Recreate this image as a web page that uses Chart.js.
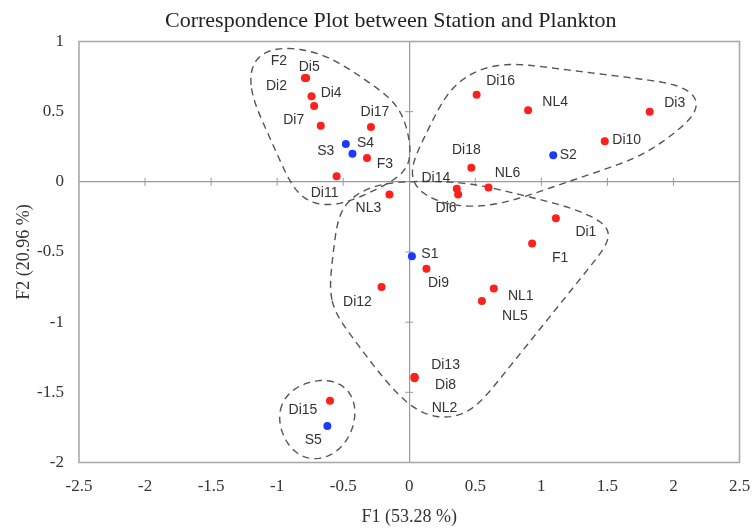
<!DOCTYPE html>
<html>
<head>
<meta charset="utf-8">
<script src="https://cdn.jsdelivr.net/npm/chart.js@4.4.1/dist/chart.umd.min.js"></script>
<style>
  html, body { margin: 0; padding: 0; background: #fff; }
  #wrap { width: 752px; height: 528px; position: relative; }
</style>
</head>
<body>
<div id="wrap"><canvas id="caChart"></canvas></div>
<script>
// --- data ---
const planktonNames = ['F2', 'Di5', 'Di2', 'Di4', 'Di7', 'Di17', 'F3', 'Di11', 'NL3',
    'Di16', 'NL4', 'Di3', 'Di10', 'Di18', 'NL6', 'Di14', 'Di6',
    'Di1', 'F1', 'Di9', 'Di12', 'NL1', 'NL5', 'Di13', 'Di8', 'NL2', 'Di15'];
const planktonF1 = [-0.79, -0.78, -0.74, -0.72, -0.67, -0.29, -0.32, -0.55, -0.15,
    0.51, 0.90, 1.82, 1.48, 0.47, 0.60, 0.36, 0.37,
    1.11, 0.93, 0.13, -0.21, 0.64, 0.55, 0.04, 0.04, 0.04, -0.60];
const planktonF2 = [0.74, 0.74, 0.61, 0.54, 0.40, 0.39, 0.17, 0.04, -0.09,
    0.62, 0.51, 0.50, 0.29, 0.10, -0.04, -0.05, -0.09,
    -0.26, -0.44, -0.62, -0.75, -0.76, -0.85, -1.39, -1.39, -1.40, -1.56];

const stationNames = ['S1', 'S2', 'S3', 'S4', 'S5'];
const stationF1 = [0.02, 1.09, -0.48, -0.43, -0.62];
const stationF2 = [-0.53, 0.19, 0.27, 0.20, -1.74];

const xTickLabels = ['-2.5', '-2', '-1.5', '-1', '-0.5', '0', '0.5', '1', '1.5', '2', '2.5'];
const yTickLabels = ['-2', '-1.5', '-1', '-0.5', '0', '0.5', '1'];

// groups circled with dashed outlines
const groupA = ['F2', 'Di5', 'Di2', 'Di4', 'Di7', 'Di17', 'S3', 'S4', 'F3', 'Di11'];
const groupB = ['Di16', 'NL4', 'Di3', 'Di10', 'S2', 'Di18', 'NL6', 'Di14'];
const groupC = ['NL3', 'Di6', 'Di1', 'F1', 'S1', 'Di9', 'Di12', 'NL1', 'NL5', 'Di13', 'Di8', 'NL2'];
const groupD = ['Di15', 'S5'];

// --- label placement (pixel offsets from the point) ---
const labelOffset = {
    F2: [-26, -17], Di5: [3, -11], Di2: [-35, -10], Di4: [17, -13], Di7: [-27, -6],
    Di17: [4, -15], S3: [-20, 7], S4: [13, -11], F3: [18, 6], Di11: [-12, 17],
    NL3: [-21, 14], Di16: [24, -14], NL4: [27, -8], Di3: [25, -9], Di10: [22, -1],
    S2: [15, 0], Di18: [-5, -18], NL6: [19, -14], Di14: [-21, -11], Di6: [-12, 14],
    Di1: [30, 14], F1: [28, 15], S1: [18, -2], Di9: [12, 14], Di12: [-24, 15],
    NL1: [27, 8], NL5: [33, 15], Di13: [31, -12], Di8: [31, 8], NL2: [30, 30],
    Di15: [-27, 9], S5: [-14, 14]
};
// half-width / half-height of the rounded envelope around each group
const groupRadius = [[29, 16], [30, 19], [30, 13], [29, 26]];

const serif = '"Liberation Serif", "Times New Roman", serif';
const sans = '"Liberation Sans", Arial, Helvetica, sans-serif';

function toPoints(xs, ys) {
    return xs.map((x, i) => ({ x: x, y: ys[i] }));
}

function hull(pts) {
    pts.sort((a, b) => a.x - b.x || a.y - b.y);
    const cross = (o, a, b) => (a.x - o.x) * (b.y - o.y) - (a.y - o.y) * (b.x - o.x);
    const lower = [];
    for (const p of pts) {
        while (lower.length >= 2 && cross(lower[lower.length - 2], lower[lower.length - 1], p) <= 0) lower.pop();
        lower.push(p);
    }
    const upper = [];
    for (let i = pts.length - 1; i >= 0; i--) {
        const p = pts[i];
        while (upper.length >= 2 && cross(upper[upper.length - 2], upper[upper.length - 1], p) <= 0) upper.pop();
        upper.push(p);
    }
    upper.pop();
    lower.pop();
    return lower.concat(upper);
}

// even spacing along the closed outline, then a few moving-average passes
function smoothLoop(poly, step, k, passes) {
    const out = [];
    for (let i = 0; i < poly.length; i++) {
        const a = poly[i], b = poly[(i + 1) % poly.length];
        const len = Math.hypot(b.x - a.x, b.y - a.y);
        const n = Math.max(1, Math.round(len / step));
        for (let j = 0; j < n; j++) {
            out.push({ x: a.x + (b.x - a.x) * j / n, y: a.y + (b.y - a.y) * j / n });
        }
    }
    let pts = out;
    for (let p = 0; p < passes; p++) {
        const m = pts.length;
        pts = pts.map((_, i) => {
            let sx = 0, sy = 0;
            for (let d = -k; d <= k; d++) {
                const q = pts[(i + d + m) % m];
                sx += q.x; sy += q.y;
            }
            return { x: sx / (2 * k + 1), y: sy / (2 * k + 1) };
        });
    }
    return pts;
}

// pixel position of each point and its label
function collectMarks(chart) {
    const marks = {};
    chart.data.datasets.forEach((ds, di) => {
        const meta = chart.getDatasetMeta(di);
        meta.data.forEach((el, i) => {
            const name = ds.names[i];
            const off = labelOffset[name] || [0, -12];
            marks[name] = { px: el.x, py: el.y, lx: el.x + off[0], ly: el.y + off[1] };
        });
    });
    return marks;
}

const outlinePlugin = {
    id: 'groupOutlines',
    beforeDatasetsDraw(chart) {
        const ctx = chart.ctx;
        const marks = collectMarks(chart);
        [groupA, groupB, groupC, groupD].forEach((grp, gi) => {
            const [rx, ry] = groupRadius[gi];
            const cloud = [];
            const addOval = (cx, cy) => {
                for (let k = 0; k < 48; k++) {
                    const a = k / 48 * Math.PI * 2;
                    cloud.push({ x: cx + rx * Math.cos(a), y: cy + ry * Math.sin(a) });
                }
            };
            grp.forEach(name => {
                const m = marks[name];
                if (!m) return;
                addOval(m.px, m.py);
                addOval(m.lx, m.ly);
            });
            const loop = smoothLoop(hull(cloud), 3, 6, 3);
            ctx.save();
            ctx.strokeStyle = '#555';
            ctx.lineWidth = 1.4;
            ctx.setLineDash([7, 5]);
            ctx.lineJoin = 'round';
            ctx.beginPath();
            loop.forEach((p, i) => i ? ctx.lineTo(p.x, p.y) : ctx.moveTo(p.x, p.y));
            ctx.closePath();
            ctx.stroke();
            ctx.restore();
        });
    }
};

const framePlugin = {
    id: 'frame',
    beforeDatasetsDraw(chart) {
        const { ctx, chartArea: a, scales: { x, y } } = chart;
        ctx.save();
        ctx.strokeStyle = '#aaaaaa';
        ctx.lineWidth = 1.6;
        ctx.strokeRect(a.left, a.top, a.right - a.left, a.bottom - a.top);
        // small tick crosses on the zero lines
        const x0 = x.getPixelForValue(0);
        const y0 = y.getPixelForValue(0);
        ctx.strokeStyle = '#999';
        ctx.lineWidth = 1;
        ctx.beginPath();
        x.ticks.forEach(t => {
            if (t.value === 0 || t.value === x.min || t.value === x.max) return;
            const px = x.getPixelForValue(t.value);
            ctx.moveTo(px, y0 - 4);
            ctx.lineTo(px, y0 + 4);
        });
        y.ticks.forEach(t => {
            if (t.value === 0 || t.value === y.min || t.value === y.max) return;
            const py = y.getPixelForValue(t.value);
            ctx.moveTo(x0 - 4, py);
            ctx.lineTo(x0 + 4, py);
        });
        ctx.stroke();
        ctx.restore();
    }
};

const labelPlugin = {
    id: 'pointLabels',
    afterDatasetsDraw(chart) {
        const ctx = chart.ctx;
        const marks = collectMarks(chart);
        ctx.save();
        ctx.font = '14px ' + sans;
        ctx.fillStyle = '#333';
        ctx.textAlign = 'center';
        ctx.textBaseline = 'middle';
        Object.keys(marks).forEach(name => {
            const m = marks[name];
            ctx.fillText(name, m.lx, m.ly);
        });
        ctx.restore();
    }
};

const titlePlugin = {
    id: 'plotTitle',
    afterDraw(chart) {
        const ctx = chart.ctx;
        ctx.save();
        ctx.font = '22px ' + serif;
        ctx.fillStyle = '#222';
        ctx.textAlign = 'left';
        ctx.textBaseline = 'alphabetic';
        ctx.fillText('Correspondence Plot between Station and Plankton', 165, 27);
        ctx.restore();
    }
};

document.addEventListener('DOMContentLoaded', function () {
    const el = document.getElementById('caChart');
    const zeroGrid = c => (c.tick && c.tick.value === 0) ? '#9a9a9a' : 'rgba(0,0,0,0)';

    new Chart(el, {
        type: 'scatter',
        data: {
            datasets: [{
                label: 'Plankton',
                names: planktonNames,
                data: toPoints(planktonF1, planktonF2),
                backgroundColor: 'rgb(255, 32, 28)',
                borderWidth: 0,
                pointRadius: 4,
            }, {
                label: 'Station',
                names: stationNames,
                data: toPoints(stationF1, stationF2),
                backgroundColor: 'rgb(28, 58, 255)',
                borderWidth: 0,
                pointRadius: 4,
            }]
        },
        options: {
            responsive: true,
            maintainAspectRatio: false,
            animation: false,
            layout: { padding: { top: 41.5, right: 12.5, bottom: 0, left: 0 } },
            plugins: {
                legend: { display: false },
                tooltip: { enabled: false }
            },
            scales: {
                x: {
                    type: 'linear',
                    min: -2.5,
                    max: 2.5,
                    afterFit: s => { s.height = 65.5; s.paddingLeft = 0; s.paddingRight = 0; },
                    border: { display: false },
                    grid: { color: zeroGrid, lineWidth: 1.2, drawTicks: false },
                    ticks: {
                        stepSize: 0.5,
                        padding: 14,
                        color: '#333',
                        font: { family: serif, size: 17 },
                        maxRotation: 0,
                        callback: (v, i) => xTickLabels[i]
                    },
                    title: {
                        display: true,
                        text: 'F1 (53.28 %)',
                        color: '#333',
                        font: { family: serif, size: 18 },
                        padding: { top: 0, bottom: 0 }
                    }
                },
                y: {
                    type: 'linear',
                    min: -2,
                    max: 1,
                    afterFit: s => { s.width = 79; s.paddingTop = 0; s.paddingBottom = 0; },
                    border: { display: false },
                    grid: { color: zeroGrid, lineWidth: 1.2, drawTicks: false },
                    ticks: {
                        stepSize: 0.5,
                        padding: 15,
                        color: '#333',
                        font: { family: serif, size: 17 },
                        callback: (v, i) => yTickLabels[i]
                    },
                    title: {
                        display: true,
                        text: 'F2 (20.96 %)',
                        color: '#333',
                        font: { family: serif, size: 18 },
                        padding: { top: 13, bottom: 0 }
                    }
                }
            }
        },
        plugins: [framePlugin, outlinePlugin, labelPlugin, titlePlugin]
    });
});
</script>
</body>
</html>
